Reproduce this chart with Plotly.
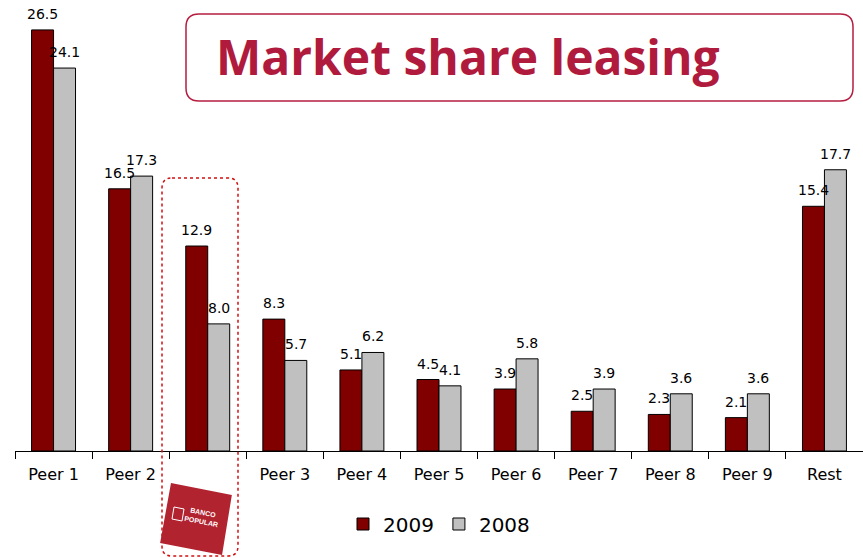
import plotly.graph_objects as go

categories = ["Peer 1", "Peer 2", " ", "Peer 3", "Peer 4", "Peer 5", "Peer 6", "Peer 7", "Peer 8", "Peer 9", "Rest"]
values_2009 = [26.5, 16.5, 12.9, 8.3, 5.1, 4.5, 3.9, 2.5, 2.3, 2.1, 15.4]
values_2008 = [24.1, 17.3, 8.0, 5.7, 6.2, 4.1, 5.8, 3.9, 3.6, 3.6, 17.7]

W, H = 863, 558
ML, MR, MT, MB = 15, 0, 5, 107
PW, PH = W - ML - MR, H - MT - MB


def px(x):
    return (x - ML) / PW


def py(y):
    return (H - MB - y) / PH


def rrect(x0, y0, x1, y1, r):
    pts = [
        f"M {px(x0 + r)},{py(y0)}",
        f"L {px(x1 - r)},{py(y0)}",
        f"Q {px(x1)},{py(y0)} {px(x1)},{py(y0 + r)}",
        f"L {px(x1)},{py(y1 - r)}",
        f"Q {px(x1)},{py(y1)} {px(x1 - r)},{py(y1)}",
        f"L {px(x0 + r)},{py(y1)}",
        f"Q {px(x0)},{py(y1)} {px(x0)},{py(y1 - r)}",
        f"L {px(x0)},{py(y0 + r)}",
        f"Q {px(x0)},{py(y0)} {px(x0 + r)},{py(y0)}",
        "Z",
    ]
    return " ".join(pts)


def quad(points):
    s = f"M {px(points[0][0])},{py(points[0][1])}"
    for p in points[1:]:
        s += f" L {px(p[0])},{py(p[1])}"
    return s + " Z"


fig = go.Figure()
fig.add_trace(go.Bar(
    name="2009", x=categories, y=values_2009,
    marker=dict(color="#800000", line=dict(color="#000000", width=1)),
))
fig.add_trace(go.Bar(
    name="2008", x=categories, y=values_2008,
    marker=dict(color="#C0C0C0", line=dict(color="#000000", width=1)),
))

bar_w = PW / len(categories) * 0.57 / 2

annotations = []
for vals, shift in ((values_2009, -bar_w / 2), (values_2008, bar_w / 2)):
    for c, v in zip(categories, vals):
        annotations.append(dict(
            x=c, y=v, xref="x", yref="y", text=f"{v:.1f}", showarrow=False,
            xanchor="center", yanchor="bottom", xshift=shift, yshift=6,
            font=dict(family="DejaVu Sans", size=14, color="#000"),
        ))

shapes = [
    # title box
    dict(type="path", xref="paper", yref="paper", path=rrect(186, 14, 853, 101, 13),
         line=dict(color="#B51E40", width=1.5), fillcolor="rgba(0,0,0,0)", layer="above"),
    # dotted highlight box
    dict(type="path", xref="paper", yref="paper", path=rrect(162, 178, 238, 556, 10),
         line=dict(color="#D01010", width=1.5, dash="dot"), fillcolor="rgba(0,0,0,0)", layer="above"),
    # logo
    dict(type="path", xref="paper", yref="paper",
         path=quad([(173, 486), (229, 497), (220, 552), (163, 541)]),
         line=dict(color="#B22330", width=5), fillcolor="#B22330", layer="above"),
    dict(type="path", xref="paper", yref="paper",
         path=quad([(174, 507), (184, 509), (182, 521), (172, 519)]),
         line=dict(color="white", width=1), fillcolor="rgba(0,0,0,0)", layer="above"),
]

annotations += [
    dict(text="<b>Market share leasing</b>", xref="paper", yref="paper",
         x=px(214), y=py(56), xanchor="left", yanchor="middle", showarrow=False,
         font=dict(family="Open Sans", size=48, color="#B01A3C")),
    dict(text="<b>BANCO<br>POPULAR</b>", xref="paper", yref="paper",
         x=px(202), y=py(517), xanchor="center", yanchor="middle", showarrow=False,
         textangle=11, font=dict(family="Liberation Sans Narrow, Liberation Sans", size=7, color="white")),
]

fig.update_layout(
    width=W, height=H,
    margin=dict(l=ML, r=MR, t=MT, b=MB),
    paper_bgcolor="white", plot_bgcolor="white",
    barmode="group", bargap=0.43, bargroupgap=0,
    showlegend=True,
    legend=dict(orientation="h", x=0.5, xanchor="center", y=py(524), yanchor="middle",
                font=dict(family="DejaVu Sans", size=20, color="#000"), itemwidth=30),
    xaxis=dict(type="category", range=[-0.5, 10.5], tickson="boundaries", ticks="outside",
               ticklen=7, tickcolor="#000", showline=True, linecolor="#000", linewidth=1,
               ticklabelstandoff=9,
               tickfont=dict(family="DejaVu Sans", size=16, color="#000"), showgrid=False),
    yaxis=dict(range=[0, PH / 15.89], visible=False, showgrid=False),
    shapes=shapes, annotations=annotations,
    font=dict(family="DejaVu Sans"),
)

fig.write_html("out.html", config={"displayModeBar": False},
               post_script="document.body.style.margin='0';document.body.style.padding='0';")
